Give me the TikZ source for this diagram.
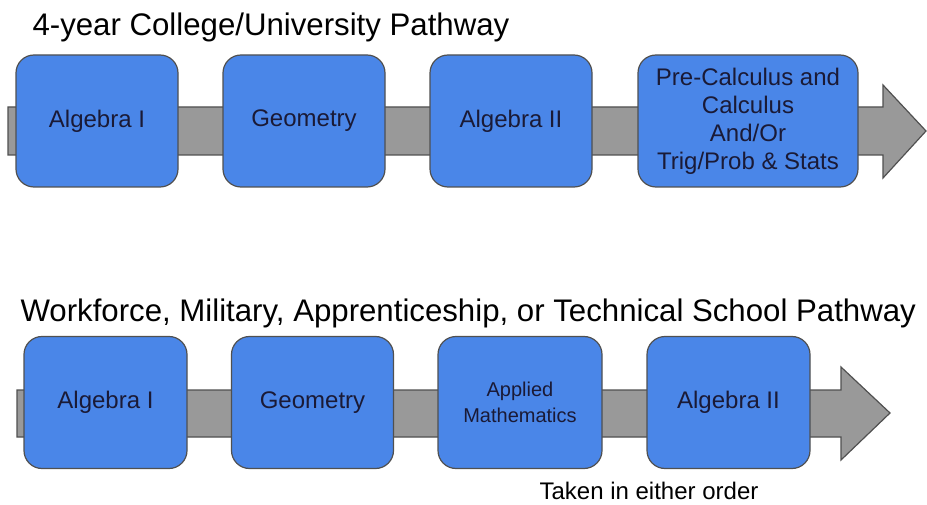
\documentclass[tikz,border=0pt]{standalone}
\usepackage{fontspec}
\setmainfont{Liberation Sans}
\usepackage{tikz}
\definecolor{boxblue}{HTML}{4A86E8}
\definecolor{bargray}{HTML}{999999}
\definecolor{edgegray}{HTML}{505050}
\definecolor{inkblue}{HTML}{1A1A36}

\begin{document}
\begin{tikzpicture}[x=1pt,y=-1pt,
  course/.style={draw=edgegray,line width=1.2pt,fill=boxblue,rounded corners=18pt,
    minimum height=132pt,text=inkblue,align=center,inner sep=2pt,
    font=\fontsize{24}{28}\selectfont},
  pathbar/.style={draw=edgegray,line width=1.2pt,fill=bargray},
  heading/.style={anchor=base west,font=\fontsize{31.2}{36}\selectfont}]
\useasboundingbox (0,0) rectangle (927,505);
% 4-year pathway
\node[heading] (titleA) at (29,36) {4-year College/University Pathway};
\draw[pathbar] (8,107) -- (883,107) -- (883,85) -- (926,131) -- (883,178) -- (883,155) -- (8,155) -- cycle;
\node[course,minimum width=162pt] (algA) at (97,121) {Algebra I};
\node[course,minimum width=162pt] (geoA) at (304,121) {Geometry};
\node[course,minimum width=162pt] (algtwoA) at (511,121) {Algebra II};
\node[course,minimum width=220pt] (calcA) at (748,121) {Pre-Calculus and\\Calculus\\And/Or\\Trig/Prob \& Stats};
% workforce pathway
\node[heading] (titleB) at (17,321) {Workforce, Military, Apprenticeship, or Technical School Pathway};
\draw[pathbar] (17,390) -- (841,390) -- (841,367) -- (890,413) -- (841,460) -- (841,437) -- (17,437) -- cycle;
\node[course,minimum width=163pt] (algB) at (105.5,402.5) {Algebra I};
\node[course,minimum width=162pt] (geoB) at (312.5,402.5) {Geometry};
\node[course,minimum width=164pt,font=\fontsize{20}{26}\selectfont] (applB) at (520,402.5) {Applied\\Mathematics};
\node[course,minimum width=163pt] (algtwoB) at (728.5,402.5) {Algebra II};
\node[anchor=base,font=\fontsize{24}{28}\selectfont] (order) at (649,499) {Taken in either order};
\end{tikzpicture}
\end{document}
